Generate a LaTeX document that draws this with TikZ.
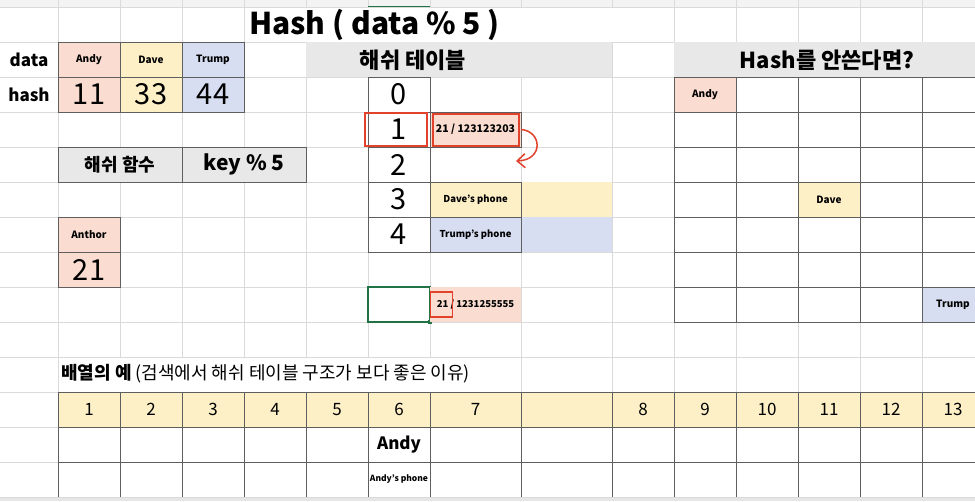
\documentclass[tikz,border=0pt]{standalone}
\usepackage{fontspec}
\setmainfont{Noto Sans CJK KR}
\usetikzlibrary{arrows.meta}
\definecolor{peach}{RGB}{250,221,208}
\definecolor{yel}{RGB}{253,240,198}
\definecolor{blu}{RGB}{215,222,242}
\definecolor{band}{RGB}{232,232,232}
\definecolor{gridc}{RGB}{218,218,218}
\definecolor{dark}{RGB}{95,95,95}
\definecolor{redc}{RGB}{226,65,43}
\definecolor{grn}{RGB}{33,115,70}
\definecolor{hdr}{RGB}{243,243,243}
\definecolor{tabc}{RGB}{230,230,230}
\tikzset{
  xcell/.style 2 args={anchor=north west, inner sep=0pt, outer sep=0pt, minimum width=#1pt, minimum height=#2pt},
  dk/.style={draw=dark, line width=0.9pt},
  gl/.style={draw=gridc, line width=0.8pt},
  tf/.style={font={\fontsize{#1}{#1}\selectfont}},
  tb/.style={font={\fontsize{#1}{#1}\selectfont\bfseries}},
  redbox/.style={draw=redc, line width=1.7pt},
}
\begin{document}
\begin{tikzpicture}[x=1pt,y=-1pt]
\useasboundingbox (0,0) rectangle (975,501);
\clip (0,0) rectangle (975,501);
\fill[white] (0,0) rectangle (975,501);
% header strip
\fill[hdr] (0,0) rectangle (975,7);
\foreach \x in {58,120,182,244,306,368,430,521,612,674,736,798,860,922}
  \draw[gl] (\x,0) -- (\x,497);
\foreach \y in {7,42,...,497}
  \draw[gl] (0,\y) -- (975,\y);
\draw[grn, line width=1.2pt] (368,6.3) -- (430,6.3);
% merged regions (hide grid)
\fill[white] (244.5,7.5) rectangle (673.5,41.5);
\fill[white] (58.5,357.5) rectangle (520.5,391.5);
% bottom tab strip
\fill[tabc] (0,497.5) rectangle (975,501);

% title
\node[anchor=west, inner sep=0pt, tb=30] (title) at (249,25) {Hash ( data \% 5 )};

% left block
\node[xcell={58}{35}, tb=17] (lbldata) at (0,42) {data};
\node[xcell={58}{35}, tb=17] (lblhash) at (0,77) {hash};
\node[xcell={62}{35}, dk, fill=peach, tb=10] (dAndy) at (58,42) {Andy};
\node[xcell={62}{35}, dk, fill=yel, tb=10] (dDave) at (120,42) {Dave};
\node[xcell={62}{35}, dk, fill=blu, tb=10] (dTrump) at (182,42) {Trump};
\node[xcell={62}{35}, dk, fill=peach, tf=29] (h11) at (58,77) {11};
\node[xcell={62}{35}, dk, fill=yel, tf=29] (h33) at (120,77) {33};
\node[xcell={62}{35}, dk, fill=blu, tf=29] (h44) at (182,77) {44};
\node[xcell={124}{35}, dk, fill=band, tb=18] (hfunc) at (58,147) {해쉬 함수};
\node[xcell={124}{35}, dk, fill=band, tb=21] (hkey) at (182,147) {key \% 5};
\node[xcell={62}{35}, dk, fill=peach, tb=10] (anthor) at (58,217) {Anthor};
\node[xcell={62}{35}, dk, fill=peach, tf=29] (a21) at (58,252) {21};

% hash table
\fill[band] (306,42) rectangle (612,77);
\node[tb=22] (httitle) at (413,60) {해쉬 테이블};
\fill[yel] (521,182) rectangle (612,217);
\fill[blu] (521,217) rectangle (612,252);
\foreach \i in {0,...,4}
  \node[xcell={62}{35}, dk, tf=29] (idx\i) at (368,{77+35*\i}) {\i};
\node[xcell={91}{35}, dk, fill=peach, tb=10.5] (v1) at (430,112) {21 / 123123203};
\node[xcell={91}{35}] (v2) at (430,147) {};
\node[xcell={91}{35}, dk, fill=yel, tb=9.5] (v3) at (430,182) {Dave's phone};
\node[xcell={91}{35}, dk, fill=blu, tb=9.5] (v4) at (430,217) {Trump's phone};
\node[xcell={62}{35}, draw=grn, line width=1.2pt] (sel) at (368,287) {};
\node[fill=grn, minimum size=3.5pt, inner sep=0pt] (selh) at (sel.south east) {};
\node[xcell={91}{35}, fill=peach, tb=9.5] (v5) at (430,287) {21 / 1231255555};
% red marks
\node[xcell={62}{33}, redbox] (ridx) at (365,113) {};
\node[xcell={86}{32}, redbox] (rv1) at (433,114) {};
\node[xcell={22}{25}, redbox] (r21) at (430.5,292) {};
\coordinate (arrEnd) at (516,161);
\draw[redc, line width=1.5pt, -{Straight Barb[length=8pt,width=14pt]}]
  (v1.east) .. controls (542,131) and (544,160) .. (arrEnd);

% no-hash grid
\fill[band] (674,42) rectangle (975,77);
\node[tb=22] (nohash) at (827,60) {Hash를 안쓴다면?};
\node[xcell={62}{35}, fill=peach, tb=10] (rAndy) at (674,77) {Andy};
\node[xcell={62}{35}, fill=yel, tb=10] (rDave) at (798,182) {Dave};
\node[xcell={62}{35}, fill=blu, tb=10] (rTrump) at (922,287) {Trump};
\foreach \x in {674,736,798,860,922}
  \draw[dk] (\x,77) -- (\x,322);
\foreach \y in {77,112,...,322}
  \draw[dk] (674,\y) -- (975,\y);

% array example
\node[anchor=west, inner sep=0pt, tf=18] (arrtitle) at (61,374) {{\bfseries 배열의 예} (검색에서 해쉬 테이블 구조가 보다 좋은 이유)};
\fill[yel] (58,392) rectangle (975,427);
\foreach \x/\w/\n in {58/62/1,120/62/2,182/62/3,244/62/4,306/62/5,368/62/6,430/91/7,612/62/8,674/62/9,736/62/10,798/62/11,860/62/12,922/62/13}
  \node[xcell={\w}{35}, tf=17] (num\n) at (\x,392) {\n};
\foreach \y in {392,427,462}
  \draw[dk] (58,\y) -- (975,\y);
\foreach \x in {58,120,182,244,306,368,430,521,612,674,736,798,860,922}
  \draw[dk] (\x,392) -- (\x,497);
\node[tb=17] (arrAndy) at (399,444.5) {Andy};
\node[tb=8.5] (arrPhone) at (399,479.5) {Andy's phone};
\end{tikzpicture}
\end{document}
